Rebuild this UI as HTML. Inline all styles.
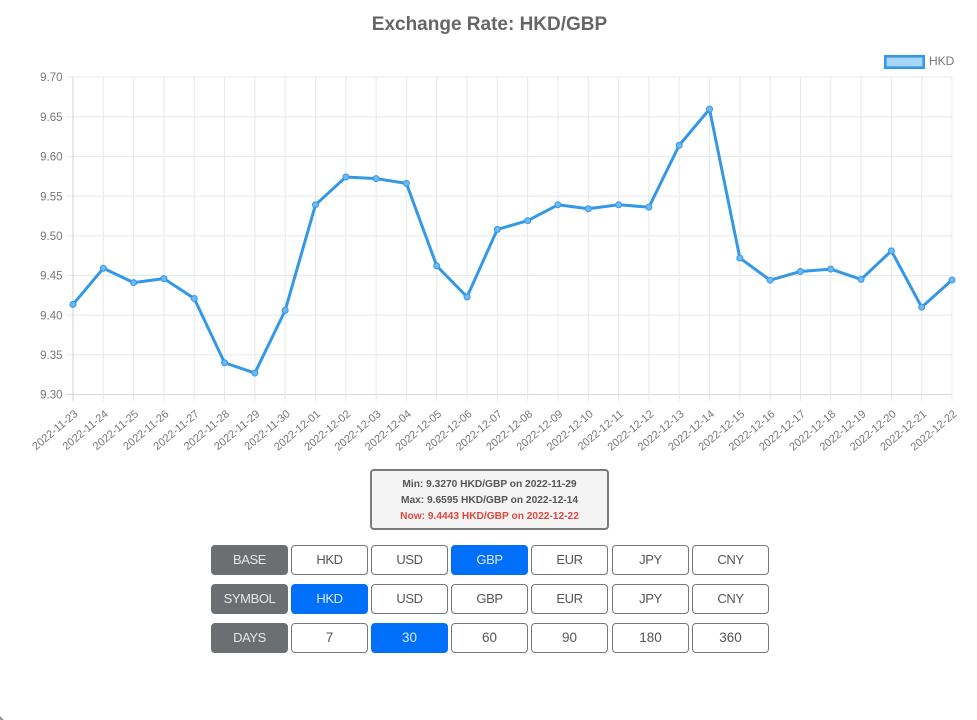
<!DOCTYPE html>
<html lang="en">
<head>
<meta charset="utf-8">
<title>Exchange Rate: HKD/GBP</title>
<style>
html,body{margin:0;padding:0;background:#fff;}
body{width:977px;height:720px;overflow:hidden;position:relative;font-family:"Liberation Sans",sans-serif;}
#chart{position:absolute;left:0;top:0;}
.stats{position:absolute;left:370px;top:469px;width:239px;height:61px;box-sizing:border-box;border:2px solid #7b7b7b;border-radius:4px;background:#f4f4f4;text-align:center;font-size:10.2px;font-weight:bold;color:#555;padding-top:6px;line-height:16px;}
.stats .now{color:#e0483e;}
.btn{position:absolute;box-sizing:border-box;width:77px;height:30px;border:1px solid #777;border-radius:4px;background:#fff;color:#555;font:13px/27px "Liberation Sans",sans-serif;letter-spacing:-0.4px;text-align:center;padding:0 0 2px 0;cursor:pointer;}
.btn.lab{padding:0;}
.btn.num{letter-spacing:0;font-size:13.5px;}
.btn.on{background:#0070fb;border-color:#0070fb;color:#dbe9ff;}
.btn.lab{background:#6c6f72;border-color:#6c6f72;color:#e6e6e6;}
.corner{position:absolute;left:0;bottom:0;width:0;height:0;border-left:4px solid #9a9a9a;border-top:4px solid transparent;}
</style>
</head>
<body>
<svg id="chart" width="977" height="460" viewBox="0 0 977 460" xmlns="http://www.w3.org/2000/svg">
  <text x="489.5" y="30" text-anchor="middle" font-family="Liberation Sans, sans-serif" font-size="19" font-weight="bold" fill="#666">Exchange Rate: HKD/GBP</text>
  <rect x="885.3" y="56.3" width="38.4" height="11.4" fill="#a8d6f8" stroke="#3498e8" stroke-width="2.6"/>
  <text x="929" y="65" font-family="Liberation Sans, sans-serif" font-size="12" fill="#777">HKD</text>
  <g id="grid"></g>
  <g id="ticks"></g>
  <g id="series"></g>
</svg>

<div class="stats">
  <div>Min: 9.3270 HKD/GBP on 2022-11-29</div>
  <div>Max: 9.6595 HKD/GBP on 2022-12-14</div>
  <div class="now">Now: 9.4443 HKD/GBP on 2022-12-22</div>
</div>

<div class="btn lab" style="left:211px;top:545px">BASE</div>
<button class="btn" style="left:291px;top:545px">HKD</button>
<button class="btn" style="left:371px;top:545px">USD</button>
<button class="btn on" style="left:451px;top:545px">GBP</button>
<button class="btn" style="left:531px;top:545px">EUR</button>
<button class="btn" style="left:612px;top:545px">JPY</button>
<button class="btn" style="left:692px;top:545px">CNY</button>

<div class="btn lab" style="left:211px;top:584px">SYMBOL</div>
<button class="btn on" style="left:291px;top:584px">HKD</button>
<button class="btn" style="left:371px;top:584px">USD</button>
<button class="btn" style="left:451px;top:584px">GBP</button>
<button class="btn" style="left:531px;top:584px">EUR</button>
<button class="btn" style="left:612px;top:584px">JPY</button>
<button class="btn" style="left:692px;top:584px">CNY</button>

<div class="btn lab" style="left:211px;top:623px">DAYS</div>
<button class="btn num" style="left:291px;top:623px">7</button>
<button class="btn num on" style="left:371px;top:623px">30</button>
<button class="btn num" style="left:451px;top:623px">60</button>
<button class="btn num" style="left:531px;top:623px">90</button>
<button class="btn num" style="left:612px;top:623px">180</button>
<button class="btn num" style="left:692px;top:623px">360</button>

<div class="corner"></div>

<script>
const categories = ["2022-11-23","2022-11-24","2022-11-25","2022-11-26","2022-11-27","2022-11-28","2022-11-29","2022-11-30","2022-12-01","2022-12-02","2022-12-03","2022-12-04","2022-12-05","2022-12-06","2022-12-07","2022-12-08","2022-12-09","2022-12-10","2022-12-11","2022-12-12","2022-12-13","2022-12-14","2022-12-15","2022-12-16","2022-12-17","2022-12-18","2022-12-19","2022-12-20","2022-12-21","2022-12-22"];
const hkdValues = [9.4135,9.459,9.441,9.446,9.421,9.340,9.3270,9.406,9.539,9.574,9.572,9.566,9.462,9.423,9.508,9.519,9.539,9.534,9.539,9.536,9.614,9.6595,9.472,9.444,9.455,9.458,9.445,9.481,9.410,9.4443];
const yTickValues = [9.30,9.35,9.40,9.45,9.50,9.55,9.60,9.65,9.70];

const NS = "http://www.w3.org/2000/svg";
const plotLeft = 73, plotRight = 952, plotTop = 77, plotBottom = 394.5;
const yMin = yTickValues[0], yMax = yTickValues[yTickValues.length - 1];
function xScale(i) { return plotLeft + i * (plotRight - plotLeft) / (categories.length - 1); }
function yScale(v) { return plotBottom - (v - yMin) * (plotBottom - plotTop) / (yMax - yMin); }
function make(tag, attrs, parent) {
  const el = document.createElementNS(NS, tag);
  for (const k in attrs) el.setAttribute(k, attrs[k]);
  parent.appendChild(el);
  return el;
}
const grid = document.getElementById("grid");
const ticks = document.getElementById("ticks");
const series = document.getElementById("series");

yTickValues.forEach(function (v, i) {
  const y = yScale(v);
  const line = make("line", {x1: plotLeft - 7, x2: plotRight, y1: y, y2: y, stroke: i === 0 ? "#d8d8d8" : "#e8e8e8", "stroke-width": 1}, grid);
  
  
  const label = make("text", {x: 62.5, y: y + 4.2, "text-anchor": "end", "font-family": "Liberation Sans, sans-serif", "font-size": 11.5, fill: "#777"}, ticks);
  label.textContent = v.toFixed(2);
  
  
});

categories.forEach(function (c, i) {
  const x = xScale(i);
  const line = make("line", {x1: x, x2: x, y1: plotTop, y2: plotBottom + 7, stroke: i === 0 ? "#d0d0d0" : "#e8e8e8", "stroke-width": 1}, grid);
  
  
  const label = make("text", {x: x + 5.5, y: 415, "text-anchor": "end", "font-family": "Liberation Sans, sans-serif", "font-size": 11, fill: "#777", transform: "rotate(-40 " + (x + 5.5) + " 415)"}, ticks);
  label.textContent = c;
  
  
});

const linePath = make("polyline", {
  points: hkdValues.map(function (v, i) { return xScale(i) + "," + yScale(v); }).join(" "),
  fill: "none", stroke: "#3498e8", "stroke-width": 3, "stroke-linejoin": "round"
}, series);



hkdValues.forEach(function (v, i) {
  const point = make("circle", {cx: xScale(i), cy: yScale(v), r: 3, fill: "#6fb9f2", stroke: "#3498e8", "stroke-width": 1}, series);
  
  
});
</script>
</body>
</html>
